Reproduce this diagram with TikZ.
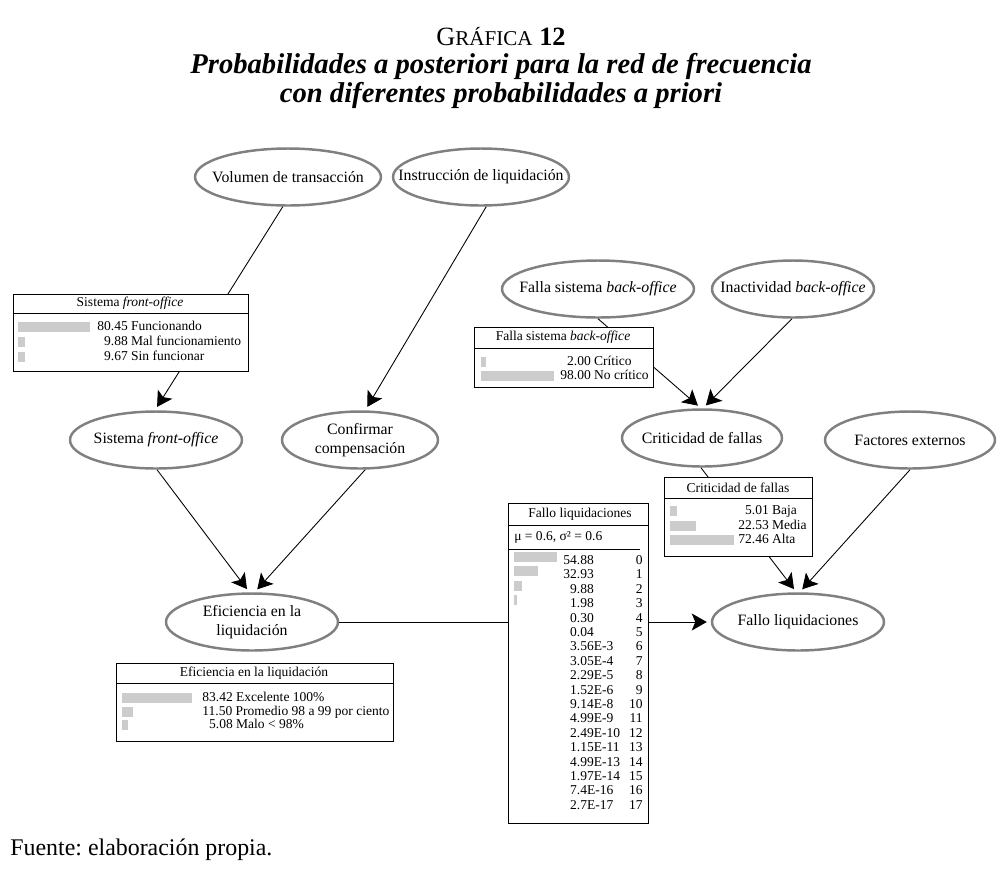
\documentclass[tikz,border=0pt]{standalone}
\usepackage{fontspec}
\setmainfont{Liberation Serif}
\usetikzlibrary{arrows.meta,positioning,shapes.geometric}

\tikzset{
  netnode/.style={ellipse, draw=black!50, line width=1.4pt, inner sep=-2cm,
    minimum height=1.14cm, align=center, font=\fontsize{9}{10.4}\selectfont},
  tabbox/.style={draw, fill=white, line width=0.5pt, inner sep=0pt, anchor=north west},
  tabhead/.style={inner sep=0pt, font=\fontsize{7.7}{9}\selectfont},
  tabrow/.style={inner sep=0pt, anchor=base west, font=\fontsize{7.7}{9}\selectfont},
  tabbar/.style={fill=black!20},
  link/.style={line width=0.5pt, -{Stealth[length=0.3cm,width=0.34cm,inset=0.07cm]}, shorten >=0.08cm},
  plain/.style={line width=0.5pt}
}

\begin{document}
\frenchspacing
\begin{tikzpicture}[x=0.02cm,y=-0.02cm]
\useasboundingbox (0,0) rectangle (1005,870);

% title
\node[anchor=base, inner sep=0pt, font=\fontsize{15}{17}\selectfont] (grafica) at (501,45)
  {G{\fontsize{12}{14}\selectfont RÁFICA} \textbf{12}};
\node[anchor=base, inner sep=0pt, font=\fontsize{16.3}{19}\selectfont\bfseries\itshape] (titleA) at (501,73)
  {Probabilidades a posteriori para la red de frecuencia};
\node[anchor=base, inner sep=0pt, font=\fontsize{16.3}{19}\selectfont\bfseries\itshape] (titleB) at (501,102)
  {con diferentes probabilidades a priori};

% network nodes
\path
(288,177) node[netnode, minimum width=3.72cm] (vol)   {Volumen de transacción}
(481,177) node[netnode, minimum width=3.52cm] (instr) {Instrucción de liquidación}
(598,289) node[netnode, minimum width=3.84cm] (falla) {Falla sistema \textit{back-office}}
(793,289) node[netnode, minimum width=3.24cm] (inact) {Inactividad \textit{back-office}}
(156,440) node[netnode, minimum width=3.44cm] (sfo)   {Sistema \textit{front-office}}
(360,440) node[netnode, minimum width=3.12cm] (conf)  {Confirmar\\compensación}
(702,438) node[netnode, minimum width=3.2cm]  (crit)  {Criticidad de fallas}
(910,440) node[netnode, minimum width=3.4cm]  (fact)  {Factores externos}
(252,622) node[netnode, minimum width=3.44cm] (efic)  {Eficiencia en la\\liquidación}
(798,622) node[netnode, minimum width=3.44cm] (fallo) {Fallo liquidaciones};

% links
\draw[link] (vol.-100) -- (sfo.92);
\draw[link] (instr.-80) -- (conf.80);
\draw[link] (sfo.-88) -- (efic.95);
\draw[link] (conf.-80) -- (efic.85);
\draw[link] (falla.-90) -- (crit.92);
\draw[link] (inact.-92) -- (crit.88);
\draw[link] (crit.-92) -- (fallo.93);
\draw[link] (fact.-90) -- (fallo.87);
\draw[link] (efic) -- (fallo);

% table: sistema front-office
\node[tabbox, minimum width=4.7cm, minimum height=1.54cm] (sfotab) at (13,294) {};
\draw[plain] (sfotab.north west) ++(0,19) -- ++(235,0);
\node[tabhead] (sfohead) at (130,303.5) {Sistema \textit{front-office}};
\foreach \len/\val [count=\i from 0] in {72/80.45 Funcionando, 7/\hphantom{0}9.88 Mal funcionamiento, 7/\hphantom{0}9.67 Sin funcionar}{
  \fill[tabbar] (18,{322+15*\i}) rectangle ++(\len,10);
  \node[tabrow] (sforow\i) at (97,{330.5+15*\i}) {\val};
}

% table: falla sistema back-office
\node[tabbox, minimum width=3.58cm, minimum height=1.2cm] (fallatab) at (474,327) {};
\draw[plain] (fallatab.north west) ++(0,21) -- ++(179,0);
\node[tabhead] (fallahead) at (563,337.5) {Falla sistema \textit{back-office}};
\foreach \len/\val [count=\i from 0] in {5/\hphantom{0}2.00 Crítico, 73/98.00 No crítico}{
  \fill[tabbar] (481,{357+14*\i}) rectangle ++(\len,10);
  \node[tabrow] (fallarow\i) at (560,{365.5+14*\i}) {\val};
}

% table: criticidad de fallas
\node[tabbox, minimum width=2.96cm, minimum height=1.58cm] (crittab) at (664,477) {};
\draw[plain] (crittab.north west) ++(0,21) -- ++(148,0);
\node[tabhead] (crithead) at (738,487.5) {Criticidad de fallas};
\foreach \len/\val [count=\i from 0] in {7/\hphantom{0}5.01 Baja, 26/22.53 Media, 64/72.46 Alta}{
  \fill[tabbar] (670,{506+14.5*\i}) rectangle ++(\len,10);
  \node[tabrow] (critrow\i) at (738,{514.5+14.5*\i}) {\val};
}

% table: eficiencia en la liquidacion
\node[tabbox, minimum width=5.54cm, minimum height=1.56cm] (efictab) at (116,663) {};
\draw[plain] (efictab.north west) ++(0,20) -- ++(277,0);
\node[tabhead] (efichead) at (254,673) {Eficiencia en la liquidación};
\foreach \len/\val [count=\i from 0] in {70/83.42 Excelente 100\%, 11/11.50 Promedio 98 a 99 por ciento, 6/\hphantom{0}5.08 Malo < 98\%}{
  \fill[tabbar] (122,{693+13.5*\i}) rectangle ++(\len,10);
  \node[tabrow] (eficrow\i) at (202,{701.5+13.5*\i}) {\val};
}

% table: fallo liquidaciones
\node[tabbox, minimum width=2.8cm, minimum height=6.4cm] (fallotab) at (508,503) {};
\draw[plain] (fallotab.north west) ++(0,22) -- ++(140,0);
\draw[plain] (fallotab.north west) ++(0,46) -- ++(132,0);
\node[tabhead] (fallohead) at (580,514) {Fallo liquidaciones};
\node[tabrow] (fallomu) at (514,540.5) {μ = 0.6, σ² = 0.6};
\foreach \len/\val [count=\i from 0] in {43/54.88, 24/32.93, 8/\hphantom{0}9.88, 3/\hphantom{0}1.98,
    0/\hphantom{0}0.30, 0/\hphantom{0}0.04, 0/\hphantom{0}3.56E-3, 0/\hphantom{0}3.05E-4,
    0/\hphantom{0}2.29E-5, 0/\hphantom{0}1.52E-6, 0/\hphantom{0}9.14E-8, 0/\hphantom{0}4.99E-9,
    0/\hphantom{0}2.49E-10, 0/\hphantom{0}1.15E-11, 0/\hphantom{0}4.99E-13, 0/\hphantom{0}1.97E-14,
    0/\hphantom{0}7.4E-16, 0/\hphantom{0}2.7E-17}{
  \ifnum\len>0 \fill[tabbar] (514,{552+14.4*\i}) rectangle ++(\len,10);\fi
  \node[tabrow] (fallorow\i) at (563,{564.5+14.4*\i}) {\val};
  \node[tabrow, anchor=base east] (falloidx\i) at (643,{564.5+14.4*\i}) {\i};
}

% source
\node[anchor=base west, inner sep=0pt, font=\fontsize{13.6}{16}\selectfont] (source) at (10,855) {Fuente: elaboración propia.};

\end{tikzpicture}
\end{document}
